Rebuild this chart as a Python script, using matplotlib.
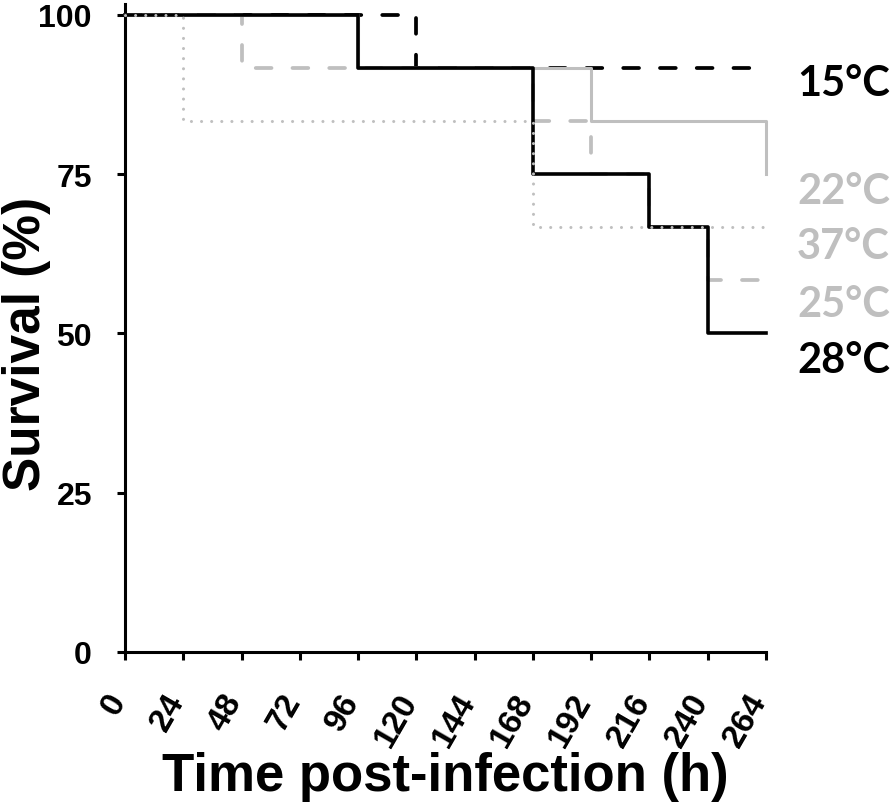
import matplotlib
matplotlib.use("Agg")
import matplotlib.pyplot as plt
from matplotlib.transforms import ScaledTranslation

# -------------------------------------------------
# Data (Kaplan-Meier steps, % survival)
# -------------------------------------------------
t15 = [0, 120, 264]
y15 = [100, 91.67, 91.67]

t22 = [0, 96, 192, 264]
y22 = [100, 91.67, 83.33, 75]

t25 = [0, 48, 168, 192, 216, 240, 264]
y25 = [100, 91.67, 83.33, 75, 66.67, 58.33, 58.33]

t28 = [0, 96, 168, 216, 240, 264]
y28 = [100, 91.67, 75, 66.67, 50, 50]

t37 = [0, 24, 168, 264]
y37 = [100, 83.33, 66.67, 66.67]

xticks = list(range(0, 265, 24))
yticks = [0, 25, 50, 75, 100]

labels = ["15°C", "22°C", "37°C", "25°C", "28°C"]
label_y = [87.4, 70.4, 61.9, 52.8, 44.0]
label_colors = ["black", "#bfbfbf", "#bfbfbf", "#bfbfbf", "black"]

grey = "#bfbfbf"

# -------------------------------------------------
# Plot
# -------------------------------------------------
fig = plt.figure(figsize=(8.94, 8.12), dpi=100)
ax = fig.add_axes([125 / 894, 159 / 812, 641 / 894, 648 / 812])

ax.step(t15, y15, where="post", color="black", lw=2.7, clip_on=False,
        dashes=(4.2, 5.6), dash_capstyle="round", zorder=2)
ax.step(t22, y22, where="post", color=grey, lw=2.2, clip_on=False, zorder=3)
ax.step(t25, y25, where="post", color=grey, lw=2.7, clip_on=False,
        dashes=(4.2, 5.6), dash_capstyle="round", zorder=4)
ax.step(t28, y28, where="post", color="black", lw=2.6, clip_on=False, zorder=5)
ax.step(t37, y37, where="post", color=grey, lw=2.2, clip_on=False,
        dashes=(0.01, 3.3), dash_capstyle="round", zorder=6)

for lab, yy, c in zip(labels, label_y, label_colors):
    ax.text(276.8, yy, lab, color=c, fontsize=30, fontweight="bold",
            family="Lato", ha="left", va="baseline", clip_on=False)

ax.set_xlim(0, 264)
ax.set_ylim(0, 101.7)
ax.set_xticks(xticks)
ax.set_yticks(yticks)
ax.set_xticklabels([str(v) for v in xticks], rotation=60, ha="right", va="top",
                   fontsize=24, fontweight="bold", family="Liberation Sans")
ax.set_yticklabels([str(v) for v in yticks], fontsize=23, fontweight="bold",
                   family="Liberation Sans")
ax.tick_params(axis="both", direction="out", length=5.8, width=2.2)
ax.tick_params(axis="y", pad=18)
ax.tick_params(axis="x", pad=20)

offset = ScaledTranslation(7 / 100, 0, fig.dpi_scale_trans)
for lbl in ax.get_xticklabels():
    lbl.set_transform(lbl.get_transform() + offset)

for side in ["top", "right"]:
    ax.spines[side].set_visible(False)
for side in ["left", "bottom"]:
    ax.spines[side].set_linewidth(2.2)

ax.set_xlabel("Time post-infection (h)", fontsize=38, fontweight="bold",
              family="Liberation Sans")
ax.xaxis.set_label_coords(0.5, -0.153)
ax.xaxis.label.set_va("top")
fig.text(27 / 894, 1 - 344 / 812, "Survival (%)", rotation=90, ha="center",
         va="center", fontsize=37, fontweight="bold", family="Liberation Sans")

fig.savefig("out.png", dpi=100)
